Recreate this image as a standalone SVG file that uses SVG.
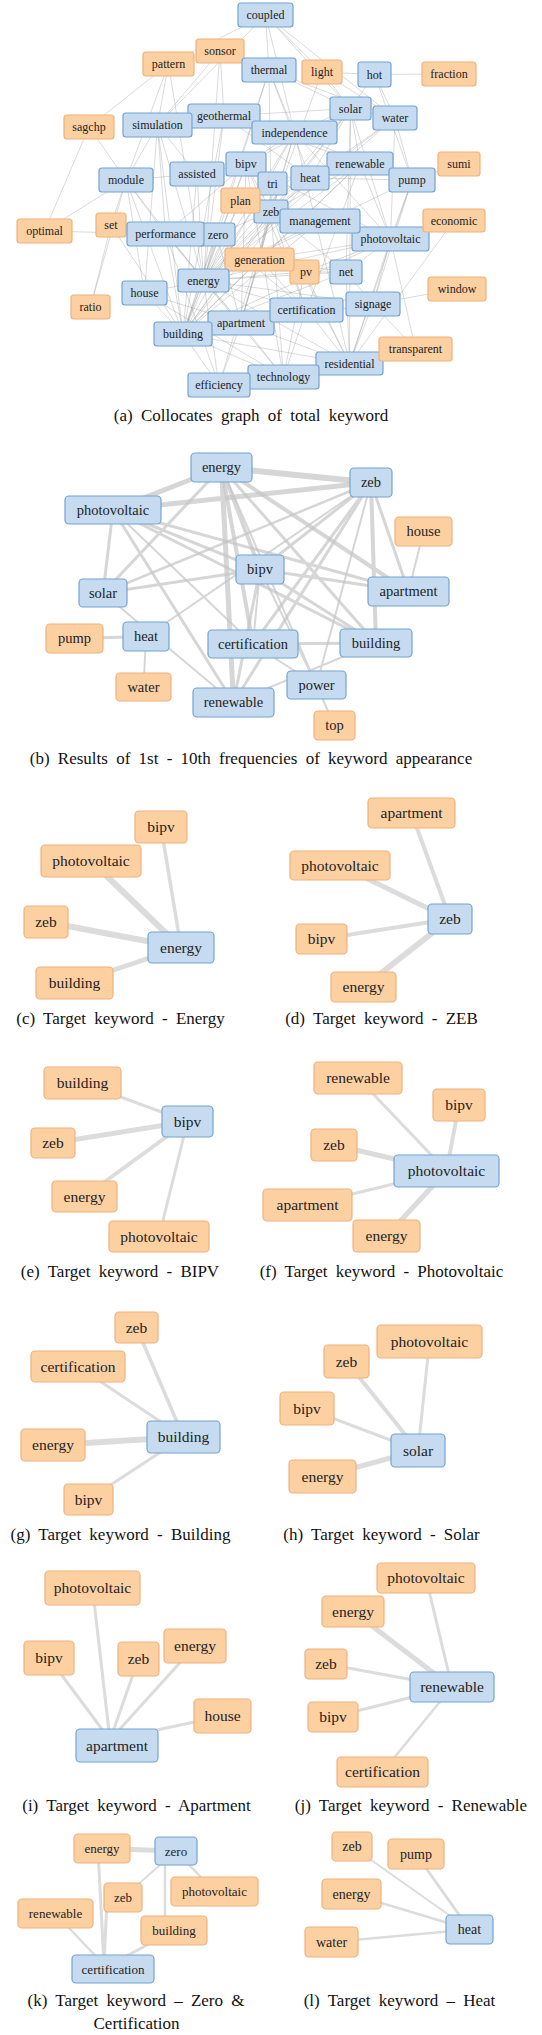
<svg xmlns="http://www.w3.org/2000/svg" width="542" height="2035" viewBox="0 0 542 2035" font-family="'Liberation Serif', 'DejaVu Serif', serif">
<style>
text{font-family:'Liberation Serif','DejaVu Serif',serif;fill:#222;text-anchor:middle}
.b rect{fill:#c6dbef;stroke:#74a3cf;stroke-width:1.2}
.o rect{fill:#fdd0a2;stroke:#efb27c;stroke-width:1.2}
.fa text{font-size:12px}
.fb text{font-size:14.5px}
.fc text{font-size:15.5px}
.fk text{font-size:13px}
.fl text{font-size:14px}
.cap{font-size:17px;word-spacing:4px;fill:#111}
#ea path{stroke:#8c8c8c;stroke-opacity:.4;stroke-width:.8;fill:none}
#ea .h{stroke:#999;stroke-opacity:.45}
#eb path{stroke:#c4c4c4;stroke-opacity:.7;fill:none}
.ec path{stroke:#dcdcdc;fill:none}
</style>
<rect width="542" height="2035" fill="#fff"/>

<!-- Panel (a) connectors -->
<g id="ea">
<path d="M265.5 15L269 70M265.5 15L322 72M265.5 15L350.5 108.5M265.5 15L294.5 132.5M265.5 15L168.5 64M265.5 15L157.5 125M265.5 15L395 118"/>
<path d="M220 51L157.5 125M220 51L203.5 280.5M220 51L224 116M168.5 64L89 127M168.5 64L157.5 125M168.5 64L126 180M168.5 64L203.5 280.5"/>
<path d="M269 70L350.5 108.5M269 70L294.5 132.5M269 70L203.5 280.5M269 70L271 211.5M269 70L183 334M269 70L395 118M269 70L310 178"/>
<path d="M322 72L374.5 74.5M322 72L350.5 108.5M322 72L395 118M322 72L271 211.5M374.5 74.5L449 74M374.5 74.5L395 118M374.5 74.5L412 180M374.5 74.5L350.5 108.5"/>
<path d="M350.5 108.5L395 118M350.5 108.5L246 164M350.5 108.5L390.5 239M350.5 108.5L310 178M350.5 108.5L360 163.5M350.5 108.5L183 334M350.5 108.5L346 272M350.5 108.5L349.5 363.5"/>
<path d="M395 118L310 178M395 118L412 180M395 118L271 211.5M395 118L203.5 280.5M395 118L390.5 239"/>
<path d="M224 116L157.5 125M224 116L294.5 132.5M224 116L203.5 280.5M224 116L183 334M224 116L310 178M224 116L412 180"/>
<path d="M157.5 125L126 180M157.5 125L197 174M157.5 125L203.5 280.5M157.5 125L183 334M157.5 125L165.5 234M157.5 125L144.5 293M89 127L126 180M89 127L44.5 231"/>
<path d="M294.5 132.5L203.5 280.5M294.5 132.5L183 334M294.5 132.5L246 164M294.5 132.5L390.5 239M294.5 132.5L360 163.5M294.5 132.5L241 323M294.5 132.5L349.5 363.5"/>
<path d="M246 164L183 334M246 164L390.5 239M246 164L197 174M246 164L272.5 183.5M246 164L306.5 310M246 164L241 323M246 164L283.5 377M246 164L165.5 234"/>
<path d="M197 174L126 180M197 174L203.5 280.5M197 174L183 334M197 174L310 178"/>
<path d="M126 180L165.5 234M126 180L203.5 280.5M126 180L183 334M126 180L144.5 293M126 180L90.5 307M126 180L44.5 231M126 180L111 225"/>
<path d="M360 163.5L203.5 280.5M360 163.5L390.5 239M360 163.5L183 334M360 163.5L306.5 310M360 163.5L310 178M360 163.5L259.5 259.5"/>
<path d="M310 178L412 180M310 178L203.5 280.5M310 178L271 211.5M310 178L183 334M272.5 183.5L203.5 280.5M272.5 183.5L259.5 259.5M272.5 183.5L271 211.5"/>
<path d="M412 180L459 164M412 180L203.5 280.5M412 180L390.5 239M412 180L349.5 363.5M412 180L373 304"/>
<path d="M240.5 200.5L203.5 280.5M240.5 200.5L271 211.5M240.5 200.5L183 334"/>
<path d="M271 211.5L320 221M271 211.5L241 323M271 211.5L306.5 310M271 211.5L349.5 363.5M271 211.5L283.5 377M271 211.5L346 272M271 211.5L219 385"/>
<path d="M320 221L203.5 280.5M320 221L183 334M454 220.5L390.5 239M454 220.5L349.5 363.5"/>
<path d="M390.5 239L183 334M390.5 239L304.5 272M390.5 239L346 272M390.5 239L373 304M390.5 239L349.5 363.5M390.5 239L415.5 349"/>
<path d="M44.5 231L165.5 234M111 225L165.5 234M111 225L183 334M165.5 234L203.5 280.5M165.5 234L183 334M165.5 234L219 385M165.5 234L241 323"/>
<path d="M216.5 234.5L271 211.5M216.5 234.5L306.5 310M216.5 234.5L241 323"/>
<path d="M259.5 259.5L203.5 280.5M259.5 259.5L183 334M259.5 259.5L304.5 272M259.5 259.5L346 272M259.5 259.5L241 323M259.5 259.5L306.5 310"/>
<path d="M304.5 272L346 272M304.5 272L203.5 280.5M304.5 272L283.5 377M304.5 272L349.5 363.5M346 272L203.5 280.5M346 272L183 334M346 272L373 304M346 272L349.5 363.5"/>
<path d="M203.5 280.5L144.5 293M203.5 280.5L241 323M203.5 280.5L306.5 310M203.5 280.5L219 385M203.5 280.5L283.5 377M203.5 280.5L349.5 363.5M203.5 280.5L373 304"/>
<path d="M144.5 293L183 334M144.5 293L241 323M144.5 293L283.5 377M457 289L373 304M90.5 307L111 225"/>
<path d="M373 304L349.5 363.5M373 304L415.5 349M373 304L183 334M306.5 310L241 323M306.5 310L183 334M306.5 310L349.5 363.5M306.5 310L283.5 377"/>
<path d="M241 323L183 334M241 323L349.5 363.5M241 323L283.5 377M241 323L219 385M183 334L219 385M183 334L283.5 377M183 334L349.5 363.5"/>
<path d="M415.5 349L349.5 363.5M349.5 363.5L283.5 377M349.5 363.5L219 385M283.5 377L219 385"/>
<path class="h" stroke-width="4" d="M203.5 280.5L271 211.5"/>
<path class="h" stroke-width="3.5" d="M203.5 280.5L183 334"/>
<path class="h" stroke-width="3" d="M271 211.5L183 334M246 164L203.5 280.5M271 211.5L390.5 239M390.5 239L259.5 259.5"/>
<path class="h" stroke-width="2.5" d="M246 164L271 211.5M216.5 234.5L203.5 280.5M216.5 234.5L183 334M390.5 239L203.5 280.5"/>
<path class="h" stroke-width="2" d="M350.5 108.5L203.5 280.5M360 163.5L271 211.5M224 116L350.5 108.5M294.5 132.5L350.5 108.5M294.5 132.5L271 211.5M350.5 108.5L271 211.5M271 211.5L259.5 259.5"/>
</g>

<!-- Panel (a) nodes -->
<g class="fa">
<g id="a-coupled" class="b"><rect x="238" y="3" width="55" height="24" rx="3"/><text x="265.5" y="19">coupled</text></g>
<g id="a-sonsor" class="o"><rect x="196" y="39" width="48" height="24" rx="3"/><text x="220" y="55">sonsor</text></g>
<g id="a-pattern" class="o"><rect x="143" y="52" width="51" height="24" rx="3"/><text x="168.5" y="68">pattern</text></g>
<g id="a-thermal" class="b"><rect x="242" y="58" width="54" height="24" rx="3"/><text x="269" y="74">thermal</text></g>
<g id="a-light" class="o"><rect x="302" y="60" width="40" height="24" rx="3"/><text x="322" y="76">light</text></g>
<g id="a-hot" class="b"><rect x="358" y="62" width="33" height="25" rx="3"/><text x="374.5" y="78.5">hot</text></g>
<g id="a-fraction" class="o"><rect x="422" y="62" width="54" height="24" rx="3"/><text x="449" y="78">fraction</text></g>
<g id="a-solar" class="b"><rect x="330" y="97" width="41" height="23" rx="3"/><text x="350.5" y="112.5">solar</text></g>
<g id="a-water" class="b"><rect x="373" y="106" width="44" height="24" rx="3"/><text x="395" y="122">water</text></g>
<g id="a-geothermal" class="b"><rect x="188" y="104" width="72" height="24" rx="3"/><text x="224" y="120">geothermal</text></g>
<g id="a-simulation" class="b"><rect x="123" y="113" width="69" height="24" rx="3"/><text x="157.5" y="129">simulation</text></g>
<g id="a-sagchp" class="o"><rect x="64" y="115" width="50" height="24" rx="3"/><text x="89" y="131">sagchp</text></g>
<g id="a-independence" class="b"><rect x="252" y="121" width="85" height="23" rx="3"/><text x="294.5" y="136.5">independence</text></g>
<g id="a-bipv" class="b"><rect x="226" y="152" width="40" height="24" rx="3"/><text x="246" y="168">bipv</text></g>
<g id="a-assisted" class="b"><rect x="170" y="162" width="54" height="24" rx="3"/><text x="197" y="178">assisted</text></g>
<g id="a-module" class="b"><rect x="99" y="168" width="54" height="24" rx="3"/><text x="126" y="184">module</text></g>
<g id="a-renewable" class="b"><rect x="327" y="152" width="66" height="23" rx="3"/><text x="360" y="167.5">renewable</text></g>
<g id="a-tri" class="b"><rect x="258" y="172" width="29" height="23" rx="3"/><text x="272.5" y="187.5">tri</text></g>
<g id="a-heat" class="b"><rect x="291" y="166" width="38" height="24" rx="3"/><text x="310" y="182">heat</text></g>
<g id="a-pump" class="b"><rect x="389" y="168" width="46" height="24" rx="3"/><text x="412" y="184">pump</text></g>
<g id="a-sumi" class="o"><rect x="438" y="152" width="42" height="24" rx="3"/><text x="459" y="168">sumi</text></g>
<g id="a-zeb" class="b"><rect x="254" y="200" width="34" height="23" rx="3"/><text x="271" y="215.5">zeb</text></g>
<g id="a-plan" class="o"><rect x="221" y="188" width="39" height="25" rx="3"/><text x="240.5" y="204.5">plan</text></g>
<g id="a-photovoltaic" class="b"><rect x="352" y="227" width="77" height="24" rx="3"/><text x="390.5" y="243">photovoltaic</text></g>
<g id="a-management" class="b"><rect x="280" y="209" width="80" height="24" rx="3"/><text x="320" y="225">management</text></g>
<g id="a-economic" class="o"><rect x="423" y="209" width="62" height="23" rx="3"/><text x="454" y="224.5">economic</text></g>
<g id="a-optimal" class="o"><rect x="17" y="219" width="55" height="24" rx="3"/><text x="44.5" y="235">optimal</text></g>
<g id="a-set" class="o"><rect x="96" y="213" width="30" height="24" rx="3"/><text x="111" y="229">set</text></g>
<g id="a-zero" class="b"><rect x="198" y="223" width="37" height="23" rx="3"/><text x="218" y="238.5">zero</text></g>
<g id="a-performance" class="b"><rect x="127" y="222" width="77" height="24" rx="3"/><text x="165.5" y="238">performance</text></g>
<g id="a-pv" class="o"><rect x="290" y="260" width="29" height="24" rx="3"/><text x="306" y="276">pv</text></g>
<g id="a-generation" class="o"><rect x="225" y="248" width="69" height="23" rx="3"/><text x="259.5" y="263.5">generation</text></g>
<g id="a-net" class="b"><rect x="330" y="260" width="32" height="24" rx="3"/><text x="346" y="276">net</text></g>
<g id="a-energy" class="b"><rect x="178" y="269" width="51" height="23" rx="3"/><text x="203.5" y="284.5">energy</text></g>
<g id="a-house" class="b"><rect x="122" y="281" width="45" height="24" rx="3"/><text x="144.5" y="297">house</text></g>
<g id="a-window" class="o"><rect x="428" y="277" width="58" height="24" rx="3"/><text x="457" y="293">window</text></g>
<g id="a-ratio" class="o"><rect x="71" y="295" width="39" height="24" rx="3"/><text x="90.5" y="311">ratio</text></g>
<g id="a-signage" class="b"><rect x="346" y="292" width="54" height="24" rx="3"/><text x="373" y="308">signage</text></g>
<g id="a-apartment" class="b"><rect x="208" y="311" width="66" height="24" rx="3"/><text x="241" y="327">apartment</text></g>
<g id="a-certification" class="b"><rect x="270" y="298" width="73" height="24" rx="3"/><text x="306.5" y="314">certification</text></g>
<g id="a-building" class="b"><rect x="154" y="322" width="58" height="24" rx="3"/><text x="183" y="338">building</text></g>
<g id="a-residential" class="b"><rect x="316" y="352" width="67" height="23" rx="3"/><text x="349.5" y="367.5">residential</text></g>
<g id="a-transparent" class="o"><rect x="379" y="337" width="73" height="24" rx="3"/><text x="415.5" y="353">transparent</text></g>
<g id="a-technology" class="b"><rect x="248" y="365" width="71" height="24" rx="3"/><text x="283.5" y="381">technology</text></g>
<g id="a-efficiency" class="b"><rect x="188" y="373" width="62" height="24" rx="3"/><text x="219" y="389">efficiency</text></g>
</g>
<text class="cap" x="251" y="421">(a) Collocates graph of total keyword</text>

<!-- Panel (b) connectors -->
<g id="eb">
<path stroke-width="6" d="M221.5 467.5L371 482.5"/>
<path stroke-width="5" d="M221.5 467.5L113 510M113 510L371 482.5M221.5 467.5L233.5 702.5"/>
<path stroke-width="4" d="M221.5 467.5L260 569.5M221.5 467.5L253 644M221.5 467.5L408.5 591.5M371 482.5L376 643"/>
<path stroke-width="3" d="M221.5 467.5L376 643M221.5 467.5L103 593M371 482.5L260 569.5M371 482.5L253 644M371 482.5L233.5 702.5M371 482.5L408.5 591.5M113 510L103 593M113 510L260 569.5M113 510L376 643M113 510L233.5 702.5M113 510L408.5 591.5M103 593L260 569.5M260 569.5L233.5 702.5M260 569.5L376 643M260 569.5L408.5 591.5M253 644L376 643M146 636.5L74.5 638.5"/>
<path stroke-width="2.5" d="M371 482.5L103 593"/>
<path stroke-width="2" d="M221.5 467.5L316.5 685M371 482.5L316.5 685M371 482.5L146 636.5M113 510L253 644M103 593L233.5 702.5M260 569.5L253 644M260 569.5L316.5 685M253 644L316.5 685M316.5 685L334.5 725.5M423.5 531.5L408.5 591.5M146 636.5L143.5 687M233.5 702.5L376 643"/>
</g>

<!-- Panel (b) nodes -->
<g class="fb">
<g id="b-energy" class="b"><rect x="191" y="453" width="61" height="29" rx="4"/><text x="221.5" y="472">energy</text></g>
<g id="b-zeb" class="b"><rect x="350" y="468" width="42" height="29" rx="4"/><text x="371" y="487">zeb</text></g>
<g id="b-photovoltaic" class="b"><rect x="65" y="496" width="96" height="28" rx="4"/><text x="113" y="514.5">photovoltaic</text></g>
<g id="b-house" class="o"><rect x="395" y="517" width="57" height="29" rx="4"/><text x="423.5" y="536">house</text></g>
<g id="b-bipv" class="b"><rect x="236" y="555" width="48" height="29" rx="4"/><text x="260" y="574">bipv</text></g>
<g id="b-solar" class="b"><rect x="79" y="579" width="48" height="28" rx="4"/><text x="103" y="597.5">solar</text></g>
<g id="b-apartment" class="b"><rect x="368" y="577" width="81" height="29" rx="4"/><text x="408.5" y="596">apartment</text></g>
<g id="b-pump" class="o"><rect x="46" y="624" width="57" height="29" rx="4"/><text x="74.5" y="643">pump</text></g>
<g id="b-heat" class="b"><rect x="123" y="622" width="46" height="29" rx="4"/><text x="146" y="641">heat</text></g>
<g id="b-certification" class="b"><rect x="208" y="630" width="90" height="28" rx="4"/><text x="253" y="648.5">certification</text></g>
<g id="b-building" class="b"><rect x="340" y="629" width="72" height="28" rx="4"/><text x="376" y="647.5">building</text></g>
<g id="b-water" class="o"><rect x="116" y="673" width="55" height="28" rx="4"/><text x="143.5" y="691.5">water</text></g>
<g id="b-power" class="b"><rect x="287" y="671" width="59" height="28" rx="4"/><text x="316.5" y="689.5">power</text></g>
<g id="b-renewable" class="b"><rect x="193" y="688" width="81" height="29" rx="4"/><text x="233.5" y="707">renewable</text></g>
<g id="b-top" class="o"><rect x="314" y="711" width="41" height="29" rx="4"/><text x="334.5" y="730">top</text></g>
</g>
<text class="cap" x="251" y="764">(b) Results of 1st - 10th frequencies of keyword appearance</text>

<!-- Panels (c)-(l) connectors -->
<g id="ec" class="ec">
<path stroke-width="3.5" d="M181 947.5L161 827"/>
<path stroke-width="6" d="M181 947.5L91 861M181 947.5L46 922"/>
<path stroke-width="5" d="M181 947.5L74.5 983"/>
<path stroke-width="4" d="M450 919L411.5 813M450 919L321.5 939"/>
<path stroke-width="5" d="M450 919L340 865.5"/>
<path stroke-width="6" d="M450 919L363.5 987"/>
<path stroke-width="3" d="M187.5 1121.5L82.5 1083M187.5 1121.5L159 1236.5"/>
<path stroke-width="5" d="M187.5 1121.5L53 1143"/>
<path stroke-width="4" d="M187.5 1121.5L84.5 1196.5"/>
<path stroke-width="3" d="M446.5 1171L358 1078M446.5 1171L307.5 1205"/>
<path stroke-width="4" d="M446.5 1171L459 1105"/>
<path stroke-width="5" d="M446.5 1171L334 1145M446.5 1171L386.5 1236"/>
<path stroke-width="3.5" d="M183.5 1437L136.5 1327.5"/>
<path stroke-width="3" d="M183.5 1437L78 1366.5M183.5 1437L88.5 1499.5"/>
<path stroke-width="6" d="M183.5 1437L53 1445"/>
<path stroke-width="3" d="M418 1450.5L429.5 1341.5M418 1450.5L307 1408.5"/>
<path stroke-width="4" d="M418 1450.5L346.5 1361.5"/>
<path stroke-width="5" d="M418 1450.5L322.5 1476.5"/>
<path stroke-width="3" d="M110 1740L92.5 1588M110 1740L49 1658M110 1740L138.5 1659M110 1740L195 1646M110 1740L222.5 1716"/>
<path stroke-width="3" d="M452 1687L426 1578M452 1687L326 1664M452 1687L333 1717"/>
<path stroke-width="5" d="M452 1687L353 1611.5"/>
<path stroke-width="2.5" d="M452 1687L382.5 1772"/>
<path stroke-width="5" d="M102 1848.5L176 1851"/>
<path stroke-width="3" d="M98 1850L104 1965M107 1900L104 1965M174 1930.5L108 1966"/>
<path stroke-width="2" d="M123 1897.5L176 1851"/>
<path stroke-width="2.5" d="M165 1851L165 1930M176 1851L214.5 1891.5M55.5 1913.5L104 1965"/>
<path stroke-width="2" d="M469.5 1929.5L352 1846.5"/>
<path stroke-width="3" d="M469.5 1929.5L416 1854"/>
<path stroke-width="2.5" d="M469.5 1929.5L351.5 1894M469.5 1929.5L331.5 1942"/>
</g>

<!-- Panels (c)-(j) nodes -->
<g class="fc">
<g id="c-bipv" class="o"><rect x="135" y="811" width="52" height="32" rx="4"/><text x="161" y="832">bipv</text></g>
<g id="c-photovoltaic" class="o"><rect x="41" y="845" width="100" height="32" rx="4"/><text x="91" y="866">photovoltaic</text></g>
<g id="c-zeb" class="o"><rect x="24" y="906" width="44" height="32" rx="4"/><text x="46" y="927">zeb</text></g>
<g id="c-energy" class="b"><rect x="148" y="932" width="66" height="31" rx="4"/><text x="181" y="952.5">energy</text></g>
<g id="c-building" class="o"><rect x="36" y="967" width="77" height="32" rx="4"/><text x="74.5" y="988">building</text></g>

<g id="d-apartment" class="o"><rect x="368" y="798" width="87" height="30" rx="4"/><text x="411.5" y="818">apartment</text></g>
<g id="d-photovoltaic" class="o"><rect x="290" y="851" width="100" height="29" rx="4"/><text x="340" y="870.5">photovoltaic</text></g>
<g id="d-zeb" class="b"><rect x="428" y="904" width="44" height="30" rx="4"/><text x="450" y="924">zeb</text></g>
<g id="d-bipv" class="o"><rect x="296" y="924" width="51" height="30" rx="4"/><text x="321.5" y="944">bipv</text></g>
<g id="d-energy" class="o"><rect x="331" y="972" width="65" height="30" rx="4"/><text x="363.5" y="992">energy</text></g>

<g id="e-building" class="o"><rect x="44" y="1067" width="77" height="32" rx="4"/><text x="82.5" y="1088">building</text></g>
<g id="e-bipv" class="b"><rect x="162" y="1106" width="51" height="31" rx="4"/><text x="187.5" y="1126.5">bipv</text></g>
<g id="e-zeb" class="o"><rect x="31" y="1128" width="44" height="30" rx="4"/><text x="53" y="1148">zeb</text></g>
<g id="e-energy" class="o"><rect x="52" y="1181" width="65" height="31" rx="4"/><text x="84.5" y="1201.5">energy</text></g>
<g id="e-photovoltaic" class="o"><rect x="109" y="1221" width="100" height="31" rx="4"/><text x="159" y="1241.5">photovoltaic</text></g>

<g id="f-renewable" class="o"><rect x="314" y="1062" width="88" height="32" rx="4"/><text x="358" y="1083">renewable</text></g>
<g id="f-bipv" class="o"><rect x="433" y="1089" width="52" height="32" rx="4"/><text x="459" y="1110">bipv</text></g>
<g id="f-zeb" class="o"><rect x="311" y="1129" width="46" height="32" rx="4"/><text x="334" y="1150">zeb</text></g>
<g id="f-photovoltaic" class="b"><rect x="394" y="1155" width="105" height="32" rx="4"/><text x="446.5" y="1176">photovoltaic</text></g>
<g id="f-apartment" class="o"><rect x="263" y="1189" width="89" height="32" rx="4"/><text x="307.5" y="1210">apartment</text></g>
<g id="f-energy" class="o"><rect x="353" y="1220" width="67" height="32" rx="4"/><text x="386.5" y="1241">energy</text></g>

<g id="g-zeb" class="o"><rect x="115" y="1312" width="43" height="31" rx="4"/><text x="136.5" y="1332.5">zeb</text></g>
<g id="g-certification" class="o"><rect x="31" y="1351" width="94" height="31" rx="4"/><text x="78" y="1371.5">certification</text></g>
<g id="g-building" class="b"><rect x="147" y="1421" width="73" height="32" rx="4"/><text x="183.5" y="1442">building</text></g>
<g id="g-energy" class="o"><rect x="21" y="1429" width="64" height="32" rx="4"/><text x="53" y="1450">energy</text></g>
<g id="g-bipv" class="o"><rect x="64" y="1484" width="49" height="31" rx="4"/><text x="88.5" y="1504.5">bipv</text></g>

<g id="h-photovoltaic" class="o"><rect x="377" y="1325" width="105" height="33" rx="4"/><text x="429.5" y="1346.5">photovoltaic</text></g>
<g id="h-zeb" class="o"><rect x="324" y="1345" width="45" height="33" rx="4"/><text x="346.5" y="1366.5">zeb</text></g>
<g id="h-bipv" class="o"><rect x="280" y="1392" width="54" height="33" rx="4"/><text x="307" y="1413.5">bipv</text></g>
<g id="h-solar" class="b"><rect x="391" y="1434" width="54" height="33" rx="4"/><text x="418" y="1455.5">solar</text></g>
<g id="h-energy" class="o"><rect x="289" y="1460" width="67" height="33" rx="4"/><text x="322.5" y="1481.5">energy</text></g>

<g id="i-photovoltaic" class="o"><rect x="45" y="1571" width="95" height="34" rx="4"/><text x="92.5" y="1593">photovoltaic</text></g>
<g id="i-bipv" class="o"><rect x="24" y="1641" width="50" height="34" rx="4"/><text x="49" y="1663">bipv</text></g>
<g id="i-zeb" class="o"><rect x="118" y="1642" width="41" height="34" rx="4"/><text x="138.5" y="1664">zeb</text></g>
<g id="i-energy" class="o"><rect x="164" y="1629" width="62" height="34" rx="4"/><text x="195" y="1651">energy</text></g>
<g id="i-house" class="o"><rect x="194" y="1699" width="57" height="34" rx="4"/><text x="222.5" y="1721">house</text></g>
<g id="i-apartment" class="b"><rect x="76" y="1729" width="82" height="33" rx="4"/><text x="117" y="1750.5">apartment</text></g>

<g id="j-photovoltaic" class="o"><rect x="377" y="1563" width="98" height="30" rx="4"/><text x="426" y="1583">photovoltaic</text></g>
<g id="j-energy" class="o"><rect x="322" y="1596" width="62" height="31" rx="4"/><text x="353" y="1616.5">energy</text></g>
<g id="j-zeb" class="o"><rect x="305" y="1649" width="42" height="30" rx="4"/><text x="326" y="1669">zeb</text></g>
<g id="j-renewable" class="b"><rect x="410" y="1672" width="84" height="30" rx="4"/><text x="452" y="1692">renewable</text></g>
<g id="j-bipv" class="o"><rect x="308" y="1702" width="50" height="30" rx="4"/><text x="333" y="1722">bipv</text></g>
<g id="j-certification" class="o"><rect x="337" y="1757" width="91" height="30" rx="4"/><text x="382.5" y="1777">certification</text></g>
</g>

<g class="fk">
<g id="k-energy" class="o"><rect x="74" y="1834" width="56" height="29" rx="4"/><text x="102" y="1853">energy</text></g>
<g id="k-zero" class="b"><rect x="155" y="1837" width="42" height="28" rx="4"/><text x="176" y="1855.5">zero</text></g>
<g id="k-zeb" class="o"><rect x="104" y="1883" width="38" height="29" rx="4"/><text x="123" y="1902">zeb</text></g>
<g id="k-photovoltaic" class="o"><rect x="171" y="1877" width="87" height="29" rx="4"/><text x="214.5" y="1896">photovoltaic</text></g>
<g id="k-renewable" class="o"><rect x="18" y="1899" width="75" height="29" rx="4"/><text x="55.5" y="1918">renewable</text></g>
<g id="k-building" class="o"><rect x="141" y="1916" width="66" height="29" rx="4"/><text x="174" y="1935">building</text></g>
<g id="k-certification" class="b"><rect x="72" y="1955" width="82" height="28" rx="4"/><text x="113" y="1973.5">certification</text></g>
</g>

<g class="fl">
<g id="l-zeb" class="o"><rect x="332" y="1832" width="40" height="29" rx="4"/><text x="352" y="1851">zeb</text></g>
<g id="l-pump" class="o"><rect x="388" y="1839" width="56" height="30" rx="4"/><text x="416" y="1858.5">pump</text></g>
<g id="l-energy" class="o"><rect x="322" y="1879" width="59" height="30" rx="4"/><text x="351.5" y="1898.5">energy</text></g>
<g id="l-heat" class="b"><rect x="446" y="1915" width="47" height="29" rx="4"/><text x="469.5" y="1934">heat</text></g>
<g id="l-water" class="o"><rect x="305" y="1927" width="53" height="30" rx="4"/><text x="331.5" y="1946.5">water</text></g>
</g>

<g id="captions">
<text class="cap" x="120.5" y="1024">(c) Target keyword - Energy</text>
<text class="cap" x="381.5" y="1024">(d) Target keyword - ZEB</text>
<text class="cap" x="120" y="1277">(e) Target keyword - BIPV</text>
<text class="cap" x="381.5" y="1277">(f) Target keyword - Photovoltaic</text>
<text class="cap" x="120.5" y="1540">(g) Target keyword - Building</text>
<text class="cap" x="381.5" y="1540">(h) Target keyword - Solar</text>
<text class="cap" x="136.5" y="1811">(i) Target keyword - Apartment</text>
<text class="cap" x="411" y="1811">(j) Target keyword - Renewable</text>
<text class="cap" x="136" y="2006">(k) Target keyword – Zero &amp;</text>
<text class="cap" x="136.5" y="2029">Certification</text>
<text class="cap" x="399.5" y="2006">(l) Target keyword – Heat</text>
</g>
</svg>
